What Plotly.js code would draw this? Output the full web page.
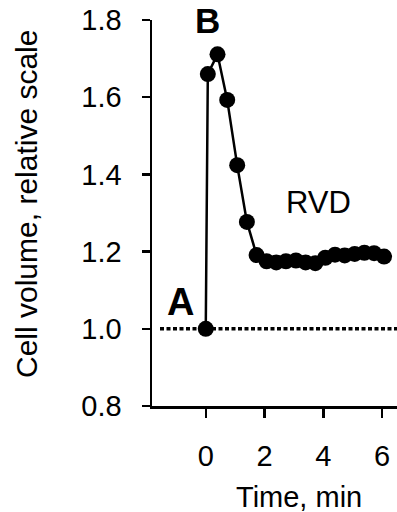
<!DOCTYPE html>
<html>
<head>
<meta charset="utf-8">
<script src="https://cdn.plot.ly/plotly-3.0.1.min.js"></script>
<style>html,body{margin:0;padding:0;background:#fff;}#chart{width:397px;height:512px;}</style>
</head>
<body>
<div id="chart"></div>
<script>
// Data
const timeMin = [0, 0.07, 0.4, 0.73, 1.07, 1.4, 1.73, 2.07, 2.4, 2.73, 3.07, 3.4, 3.73, 4.07, 4.4, 4.73, 5.07, 5.4, 5.73, 6.07];
const cellVolume = [1.0, 1.66, 1.711, 1.593, 1.424, 1.277, 1.191, 1.175, 1.172, 1.175, 1.177, 1.172, 1.17, 1.184, 1.192, 1.19, 1.194, 1.197, 1.196, 1.187];
const baselineValue = 1.0;
const yTicks = [0.8, 1.0, 1.2, 1.4, 1.6, 1.8];
const yTickLabels = ["0.8", "1.0", "1.2", "1.4", "1.6", "1.8"];
const xTicks = [0, 2, 4, 6];
const xTickLabels = ["0", "2", "4", "6"];
const labels = [
  {text: "A", x: -0.87, y: 1.069, bold: true},
  {text: "RVD", x: 3.85, y: 1.326, bold: false}
];
const peakLabel = "B";
const xTitle = "Time, min";
const yTitle = "Cell volume, relative scale";

const FONT = "Liberation Sans, Arial, Helvetica, sans-serif";

const trace = {
  x: timeMin,
  y: cellVolume,
  type: "scatter",
  mode: "lines+markers",
  line: {color: "#000", width: 2.5},
  marker: {color: "#000", size: 16},
  cliponaxis: false,
  hoverinfo: "skip"
};

const annotations = labels.map(l => ({
  text: l.bold ? "<b>" + l.text + "</b>" : l.text,
  x: l.x, y: l.y, xref: "x", yref: "y",
  showarrow: false,
  font: {family: FONT, size: l.bold ? 38 : 31, color: "#000"},
  xanchor: "center", yanchor: "middle"
}));

annotations.push({
  text: "<b>" + peakLabel + "</b>", xref: "x", yref: "paper",
  x: 0.06, y: (406 - 0) / 386, borderpad: 0,
  showarrow: false, xanchor: "center", yanchor: "top",
  font: {family: FONT, size: 35, color: "#000"}
});
annotations.push({
  text: xTitle, xref: "paper", yref: "paper",
  x: (298.5 - 152) / 245, y: -(497 - 406) / 386,
  showarrow: false, xanchor: "center", yanchor: "middle",
  font: {family: FONT, size: 29, color: "#000"}
});
annotations.push({
  text: yTitle, xref: "paper", yref: "paper",
  x: -(152 - 26) / 245, y: (406 - 204) / 386,
  textangle: -90,
  showarrow: false, xanchor: "center", yanchor: "middle",
  font: {family: FONT, size: 30, color: "#000"}
});

const layout = {
  width: 397, height: 512,
  margin: {l: 152, r: 0, t: 20, b: 106, pad: 0},
  paper_bgcolor: "#fff", plot_bgcolor: "#fff",
  showlegend: false,
  font: {family: FONT, size: 28, color: "#000"},
  xaxis: {
    range: [-1.83, 6.51],
    tickmode: "array", tickvals: xTicks, ticktext: xTickLabels,
    ticks: "outside", ticklen: 9, tickwidth: 2.5, tickcolor: "#000",
    showline: true, linecolor: "#000", linewidth: 2.5,
    showgrid: false, zeroline: false,
    ticklabelstandoff: 14,
    tickfont: {family: FONT, size: 29, color: "#000"}
  },
  yaxis: {
    range: [0.8, 1.8],
    tickmode: "array", tickvals: yTicks, ticktext: yTickLabels,
    ticks: "outside", ticklen: 8, tickwidth: 2.5, tickcolor: "#000",
    showline: true, linecolor: "#000", linewidth: 2.5,
    showgrid: false, zeroline: false,
    ticklabelstandoff: 14,
    tickfont: {family: FONT, size: 29, color: "#000"}
  },
  shapes: [{
    type: "line", xref: "paper", yref: "y",
    x0: 8 / 245, x1: 1, y0: baselineValue, y1: baselineValue,
    line: {color: "#000", width: 3.5, dash: "4px,2.5px"},
    layer: "below"
  }],
  annotations: annotations
};

Plotly.newPlot("chart", [trace], layout, {staticPlot: true, displayModeBar: false});
</script>
</body>
</html>
